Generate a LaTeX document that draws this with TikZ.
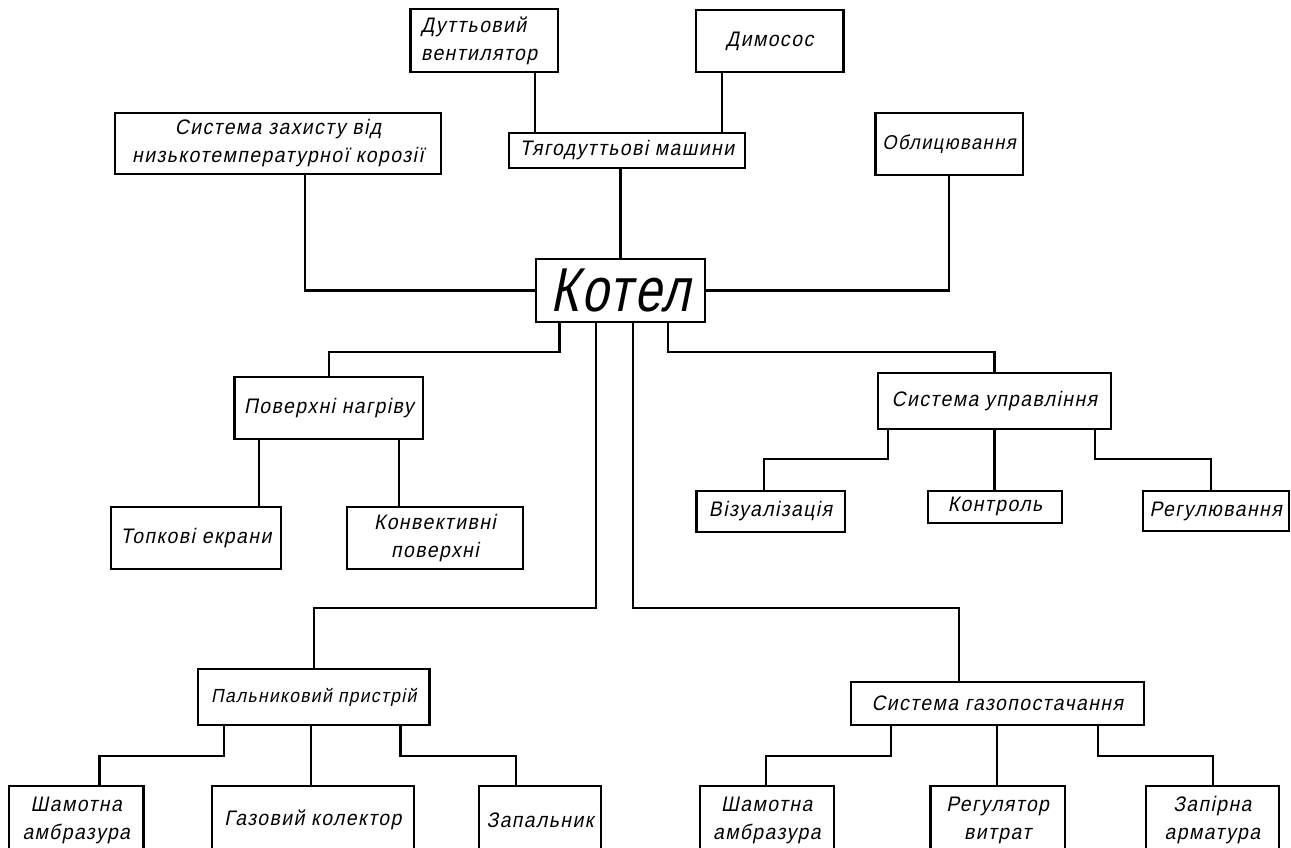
\documentclass[tikz,border=0pt]{standalone}
\usepackage{fontspec}
\setmainfont{Liberation Sans}
\newfontfamily\gost[FakeSlant=0.2,FakeStretch=0.92,LetterSpace=7]{Liberation Sans}
\newfontfamily\gostbig[FakeSlant=0.2,FakeStretch=0.78,LetterSpace=4]{Liberation Sans}
\usetikzlibrary{calc}
\newcommand\mybox[6]{\node[bx, minimum width={#4-#2}, minimum height={#5-#3}, #6] (#1) at ({(#2+#4)/2},{(#3+#5)/2})}
\begin{document}
\begin{tikzpicture}[x=1pt,y=-1pt,
  bx/.style={draw, line width=2.2pt, inner sep=0pt, outer sep=0pt, font=\gost\fontsize{21}{28}\selectfont, align=center},
  ln/.style={line width=2.2pt}]
\useasboundingbox (0,0) rectangle (1291,847);
\clip (0,0) rectangle (1291,847);
\fill[white] (0,0) rectangle (1291,847);

% top row
\mybox{dv}{410.4}{9.3}{557.6}{71.7}{align=left, text width=126pt}{Дуттьовий\\вентилятор};
\mybox{dym}{696}{10}{843.4}{72}{}{Димосос};
\mybox{szk}{115.3}{112.7}{440.7}{174.3}{}{Система захисту від\\низькотемпературної корозії};
\mybox{tyag}{509}{133}{745}{168}{}{Тягодуттьові машини};
\mybox{obl}{875.4}{113}{1022.7}{175}{font=\gost\fontsize{20}{28}\selectfont}{Облицювання};
\mybox{kotel}{536}{259}{705}{322}{font=\gostbig\fontsize{62}{68}\selectfont}{Котел};
% middle
\mybox{pov}{234.5}{376.7}{423.2}{439}{}{Поверхні нагріву};
\mybox{upr}{878}{373}{1110.8}{429}{}{Система управління};
\mybox{top}{111}{507}{281}{569}{}{Топкові екрани};
\mybox{konv}{347}{507}{522.8}{569}{}{Конвективні\\поверхні};
\mybox{viz}{696.4}{490.7}{844.7}{532}{}{Візуалізація};
\mybox{kontr}{928}{491}{1062}{522.7}{}{Контроль};
\mybox{reg}{1142.8}{491}{1288.6}{531}{}{Регулювання};
% lower
\mybox{paln}{198}{669}{429.5}{725}{font=\gost\fontsize{19}{26}\selectfont}{Пальниковий пристрій};
\mybox{gaz}{851}{681.7}{1143.6}{725}{}{Система газопостачання};
\mybox{sham1}{9}{785.7}{143.5}{855}{}{Шамотна\\амбразура};
\mybox{gkol}{212}{785.7}{413.8}{855}{}{Газовий колектор};
\mybox{zap}{478.9}{785.7}{601}{855}{}{Запальник};
\mybox{sham2}{700}{785.7}{833.6}{855}{}{Шамотна\\амбразура};
\mybox{regv}{930.5}{785.7}{1064.8}{855}{}{Регулятор\\витрат};
\mybox{zarm}{1145.7}{785.7}{1279}{855}{}{Запірна\\арматура};

% connectors
\draw[ln] (dv.south -| 534.8,0) -- (tyag.north -| 534.8,0);
\draw[ln] (dym.south -| 721.8,0) -- (tyag.north -| 721.8,0);
\draw[ln] (tyag.south -| kotel.north) -- (kotel.north);
\draw[ln] (szk.south -| 305,0) |- (kotel.west);
\draw[ln] (obl.south) |- (kotel.east);
\draw[ln] (kotel.south -| 559.5,0) -- ++(0,30) -| (pov.north);
\draw[ln] (kotel.south -| 667.6,0) -- ++(0,30) -| (upr.north);
\draw[ln] (kotel.south -| 596.3,0) -- ++(0,286) -| (paln.north);
\draw[ln] (kotel.south -| 632.6,0) -- ++(0,286) -| (gaz.north -| 959,0);
\draw[ln] (pov.south -| 259,0) -- (top.north -| 259,0);
\draw[ln] (pov.south -| 399,0) -- (konv.north -| 399,0);
\draw[ln] (upr.south -| 888,0) -- ++(0,30) -| (viz.north -| 764,0);
\draw[ln] (upr.south) -- (kontr.north -| upr.south);
\draw[ln] (upr.south -| 1094.8,0) -- ++(0,30) -| (reg.north -| 1210.6,0);
\draw[ln] (paln.south -| 224,0) -- ++(0,31) -| (sham1.north -| 99.5,0);
\draw[ln] (paln.south -| 311,0) -- (gkol.north -| 311,0);
\draw[ln] (paln.south -| 400.5,0) -- ++(0,31) -| (zap.north -| 516,0);
\draw[ln] (gaz.south -| 891,0) -- ++(0,30.7) -| (sham2.north -| 766,0);
\draw[ln] (gaz.south) -- (regv.north -| gaz.south);
\draw[ln] (gaz.south -| 1097.6,0) -- ++(0,30.7) -| (zarm.north -| 1212.6,0);
\end{tikzpicture}
\end{document}
